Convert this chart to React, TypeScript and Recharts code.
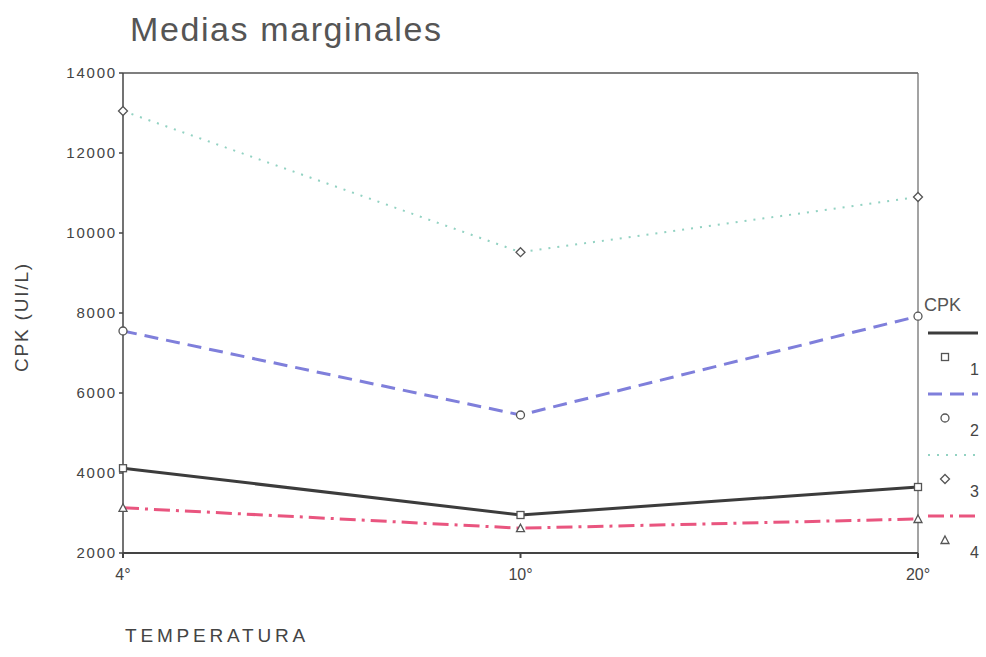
import React from "react"
import { LineChart, Line, XAxis, YAxis, ReferenceLine } from "recharts"

const categories = ["4°", "10°", "20°"]
const cpk1 = [4120, 2950, 3650]
const cpk2 = [7550, 5450, 7920]
const cpk3 = [13050, 9520, 10900]
const cpk4 = [3130, 2620, 2850]
const yTicks = [2000, 4000, 6000, 8000, 10000, 12000, 14000]
const seriesNames = ["1", "2", "3", "4"]

const data = categories.map((t, i) => ({
  temp: t,
  c1: cpk1[i],
  c2: cpk2[i],
  c3: cpk3[i],
  c4: cpk4[i],
}))

const font = "'Liberation Sans', Arial, sans-serif"
const markStroke = "#555"

type Shape = "square" | "circle" | "diamond" | "triangle"

function Marker({ cx, cy, shape }: { cx: number; cy: number; shape: Shape }) {
  const p = { fill: "white", stroke: markStroke, strokeWidth: 1.3 }
  if (shape === "square") return <rect x={cx - 3.5} y={cy - 3.5} width={7} height={7} {...p} />
  if (shape === "circle") return <circle cx={cx} cy={cy} r={4} {...p} />
  if (shape === "diamond")
    return <polygon points={`${cx},${cy - 4.5} ${cx + 4.5},${cy} ${cx},${cy + 4.5} ${cx - 4.5},${cy}`} {...p} />
  return <polygon points={`${cx},${cy - 4} ${cx + 4},${cy + 3.5} ${cx - 4},${cy + 3.5}`} {...p} />
}

const series = [
  { key: "c1", color: "#3c3c3c", width: 3, dash: undefined, shape: "square" as Shape },
  { key: "c2", color: "#7f7fdb", width: 3, dash: "14 8", shape: "circle" as Shape },
  { key: "c3", color: "#92d2c2", width: 2, dash: "2 7", shape: "diamond" as Shape },
  { key: "c4", color: "#e9557f", width: 3, dash: "16 6 3 6", shape: "triangle" as Shape },
]

// legend drawn by hand, sits right of the frame
function CpkLegend() {
  return (
    <svg width={68} height={280} style={{ position: "absolute", left: 918, top: 283, fontFamily: font }}>
      <text x={6} y={28} fontSize={18} fill="#555">CPK</text>
      {series.map((s, i) => {
        const y0 = 50 + i * 61
        return (
          <g key={s.key}>
            <line x1={10} x2={60} y1={y0} y2={y0} stroke={s.color} strokeWidth={s.width} strokeDasharray={s.dash} />
            <Marker cx={27} cy={y0 + 24} shape={s.shape} />
            <text x={52} y={y0 + 42} fontSize={16} fill="#444">{seriesNames[i]}</text>
          </g>
        )
      })}
    </svg>
  )
}

export default function App() {
  return (
    <div style={{ position: "absolute", left: 0, top: 0, width: 986, height: 657, background: "white", fontFamily: font }}>
      <div style={{ position: "absolute", left: 130, top: 10, fontSize: 34, letterSpacing: 1.6, color: "#555" }}>Medias marginales</div>
      <div style={{ position: "absolute", left: 22, top: 317, transform: "translate(-50%, -50%) rotate(-90deg)", fontSize: 19, letterSpacing: 1.8, color: "#444", whiteSpace: "nowrap" }}>
        CPK (UI/L)
      </div>
      <div style={{ position: "absolute", left: 125, top: 625, fontSize: 19, letterSpacing: 3.8, color: "#444" }}>TEMPERATURA</div>
      <LineChart width={986} height={657} data={data} margin={{ top: 73, right: 68, left: 63, bottom: 74 }}>
        <XAxis
          dataKey="temp"
          height={30}
          stroke="#444"
          strokeWidth={2}
          tickSize={5}
          tickMargin={11}
          tick={{ fill: "#444", fontSize: 16, fontFamily: font }}
        />
        <YAxis
          width={60}
          domain={[2000, 14000]}
          ticks={yTicks}
          stroke="#444"
          strokeWidth={1.5}
          tickSize={4}
          tick={{ fill: "#444", fontSize: 15, fontFamily: font, letterSpacing: 1.8 }}
        />
        <ReferenceLine y={14000} stroke="#555" strokeWidth={1.5} />
        <ReferenceLine x="20°" stroke="#666" strokeWidth={1.2} />
        {series.map((s) => (
          <Line
            key={s.key}
            type="linear"
            dataKey={s.key}
            stroke={s.color}
            strokeWidth={s.width}
            strokeDasharray={s.dash}
            isAnimationActive={false}
            dot={(props: any) => <Marker key={`${s.key}-${props.index}`} cx={props.cx} cy={props.cy} shape={s.shape} />}
            activeDot={false}
          />
        ))}
      </LineChart>
      <CpkLegend />
    </div>
  )
}
